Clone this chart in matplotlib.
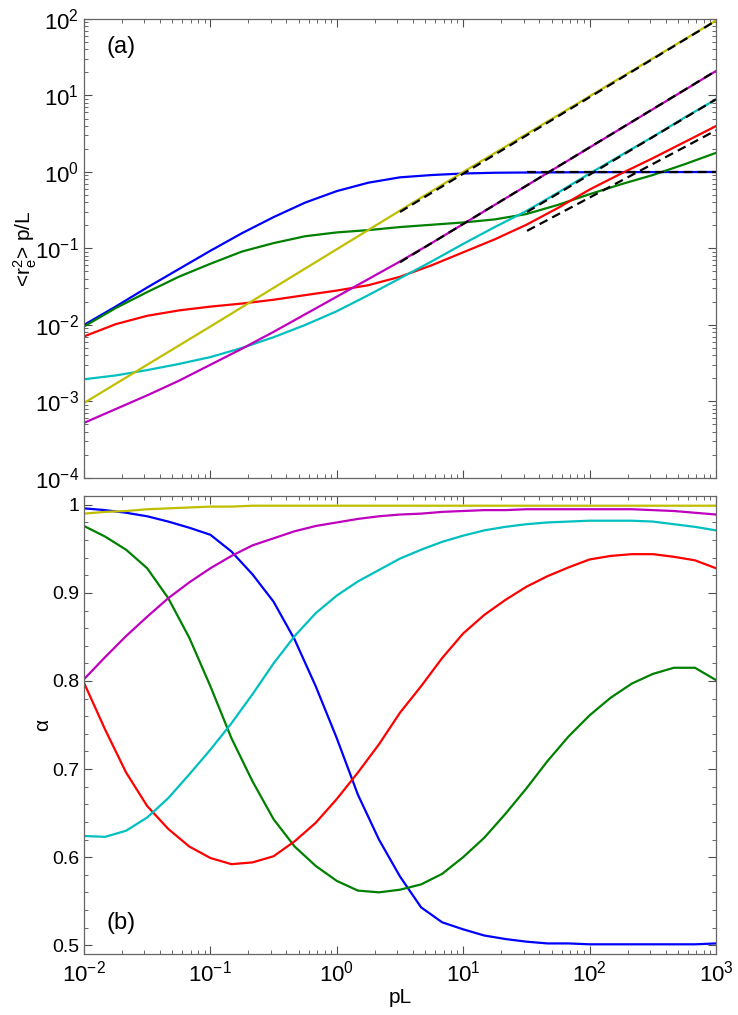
import numpy as np
import matplotlib
matplotlib.use("Agg")
import matplotlib.pyplot as plt
from matplotlib.ticker import LogLocator, MultipleLocator, FormatStrFormatter, NullFormatter

plt.rcParams['font.family'] = ['Liberation Sans', 'DejaVu Sans']
plt.rcParams['mathtext.fontset'] = 'custom'
plt.rcParams['mathtext.rm'] = 'Liberation Sans'
plt.rcParams['mathtext.it'] = 'Liberation Sans:italic'

# MATLAB colours
c_blue = (0, 0, 1)
c_green = (0, 0.5, 0)
c_red = (1, 0, 0)
c_cyan = (0, 0.75, 0.75)
c_mag = (0.75, 0, 0.75)
c_yel = (0.75, 0.75, 0)

# ---- panel (a): log10 of <r_e^2> p/L, read at pL = 10^-2 ... 10^3 every 1/4 decade
pl_top = np.logspace(-2, 3, 21)
blue_r = [-2.00, -1.76, -1.51, -1.27, -1.03, -0.80, -0.59, -0.40, -0.25, -0.14, -0.07,
          -0.04, -0.02, -0.01, -0.007, -0.005, -0.003, -0.002, -0.001, -0.001, 0.0]
green_r = [-2.02, -1.78, -1.57, -1.37, -1.20, -1.04, -0.93, -0.84, -0.79, -0.76, -0.72,
           -0.69, -0.66, -0.62, -0.55, -0.43, -0.29, -0.16, -0.04, 0.10, 0.25]
red_r = [-2.15, -1.99, -1.88, -1.81, -1.76, -1.72, -1.67, -1.61, -1.55, -1.48, -1.37,
         -1.22, -1.05, -0.88, -0.69, -0.47, -0.23, -0.02, 0.18, 0.39, 0.60]
cyan_r = [-2.71, -2.66, -2.59, -2.51, -2.42, -2.30, -2.16, -2.00, -1.82, -1.61, -1.39,
          -1.17, -0.94, -0.72, -0.51, -0.27, -0.02, 0.22, 0.46, 0.71, 0.95]
mag_r = [-3.28, -3.10, -2.92, -2.73, -2.52, -2.31, -2.09, -1.86, -1.63, -1.40, -1.17,
         -0.93, -0.68, -0.43, -0.18, 0.07, 0.32, 0.57, 0.82, 1.07, 1.32]
pl_yel = [1e-2, 1e-1, 1e0, 1e1, 1e2, 1e3]
yel_r = [-3.02, -2.02, -1.01, 0.0, 0.99, 1.98]

# dashed asymptotes (start, end)
asym_x = [[3.16, 1000], [3.16, 1000], [32, 1000], [32, 1000], [32, 1000]]
asym_y = [[0.30, 95], [0.066, 21], [0.30, 8.9], [0.17, 3.5], [1.0, 1.0]]

# ---- panel (b): alpha, read every 1/6 decade
pl_bot = np.logspace(-2, 3, 31)
blue_a = [0.996, 0.994, 0.991, 0.987, 0.981, 0.974, 0.966, 0.947, 0.921, 0.890, 0.847,
          0.794, 0.735, 0.671, 0.620, 0.578, 0.543, 0.526, 0.518, 0.511, 0.507, 0.504,
          0.502, 0.502, 0.501, 0.501, 0.501, 0.501, 0.501, 0.501, 0.502]
green_a = [0.976, 0.964, 0.949, 0.928, 0.894, 0.849, 0.794, 0.735, 0.686, 0.643, 0.612,
           0.590, 0.573, 0.562, 0.560, 0.563, 0.569, 0.581, 0.600, 0.622, 0.649, 0.678,
           0.709, 0.737, 0.761, 0.781, 0.797, 0.808, 0.815, 0.815, 0.801]
red_a = [0.798, 0.745, 0.696, 0.658, 0.632, 0.612, 0.599, 0.592, 0.594, 0.601, 0.618,
         0.639, 0.666, 0.696, 0.728, 0.764, 0.794, 0.826, 0.854, 0.875, 0.892, 0.907,
         0.919, 0.929, 0.938, 0.942, 0.944, 0.944, 0.941, 0.937, 0.928]
cyan_a = [0.624, 0.623, 0.630, 0.645, 0.667, 0.694, 0.722, 0.752, 0.785, 0.820, 0.851,
          0.877, 0.897, 0.913, 0.926, 0.939, 0.949, 0.958, 0.965, 0.971, 0.975, 0.978,
          0.980, 0.981, 0.982, 0.982, 0.982, 0.981, 0.978, 0.975, 0.971]
mag_a = [0.802, 0.827, 0.851, 0.873, 0.894, 0.912, 0.928, 0.942, 0.954, 0.962, 0.970,
         0.976, 0.980, 0.984, 0.987, 0.989, 0.990, 0.992, 0.993, 0.994, 0.994, 0.995,
         0.995, 0.995, 0.995, 0.995, 0.995, 0.994, 0.993, 0.991, 0.989]
yel_a = [0.990, 0.992, 0.993, 0.995, 0.996, 0.997, 0.998, 0.998, 0.999, 0.999, 0.999,
         0.999, 0.999, 0.999, 0.999, 0.999, 0.999, 0.999, 0.999, 0.999, 0.999, 0.999,
         0.999, 0.999, 0.999, 0.999, 0.999, 0.999, 0.999, 0.999, 0.999]

fig = plt.figure(figsize=(7.38, 10.15), dpi=100)
ax1 = fig.add_axes([0.1138, 0.5291, 0.8564, 0.4522])
ax2 = fig.add_axes([0.1138, 0.0601, 0.8564, 0.4512])

lw = 1.6
for vals, col in [(blue_r, c_blue), (green_r, c_green), (red_r, c_red),
                  (cyan_r, c_cyan), (mag_r, c_mag)]:
    ax1.plot(pl_top, 10 ** np.array(vals), color=col, lw=lw)
ax1.plot(pl_yel, 10 ** np.array(yel_r), color=c_yel, lw=lw)
for xs, ys in zip(asym_x, asym_y):
    ax1.plot(xs, ys, color='k', lw=lw, ls=(0, (4, 2.4)))

ax1.set_xscale('log')
ax1.set_yscale('log')
ax1.set_xlim(1e-2, 1e3)
ax1.set_ylim(1e-4, 1e2)
ax1.yaxis.set_major_locator(LogLocator(base=10, numticks=10))
ax1.yaxis.set_minor_locator(LogLocator(base=10, subs=np.arange(2, 10), numticks=20))
ax1.set_ylabel(r'<r$_\mathrm{e}^\mathrm{2}$> p/L', fontsize=15, labelpad=-3)
ax1.text(0.036, 0.94, '(a)', transform=ax1.transAxes, fontsize=17, va='center', ha='left')
ax1.tick_params(labelbottom=False)

for vals, col in [(blue_a, c_blue), (green_a, c_green), (red_a, c_red),
                  (cyan_a, c_cyan), (mag_a, c_mag), (yel_a, c_yel)]:
    ax2.plot(pl_bot, vals, color=col, lw=lw)
ax2.set_xscale('log')
ax2.set_xlim(1e-2, 1e3)
ax2.set_ylim(0.49, 1.01)
ax2.yaxis.set_major_locator(MultipleLocator(0.1))
ax2.yaxis.set_minor_locator(MultipleLocator(0.02))
ax2.yaxis.set_major_formatter(FormatStrFormatter('%g'))
ax2.set_xlabel('pL', fontsize=15, labelpad=1)
ax2.set_ylabel('α', fontsize=15, labelpad=0)
ax2.text(0.036, 0.068, '(b)', transform=ax2.transAxes, fontsize=17, va='center', ha='left')

for ax in (ax1, ax2):
    ax.xaxis.set_major_locator(LogLocator(base=10, numticks=10))
    ax.xaxis.set_minor_locator(LogLocator(base=10, subs=np.arange(2, 10), numticks=20))
    ax.xaxis.set_minor_formatter(NullFormatter())
    ax.tick_params(which='both', direction='in', top=True, right=True, colors='0.3',
                   labelcolor='k', labelsize=16)
    ax.tick_params(which='major', length=6, width=0.8)
    ax.tick_params(which='minor', length=3, width=0.6)
    ax.tick_params(axis='x', pad=5)
    for s in ax.spines.values():
        s.set_color('0.4')
        s.set_linewidth(0.9)
ax2.tick_params(axis='y', labelsize=14)

fig.savefig('out.png', dpi=100)
